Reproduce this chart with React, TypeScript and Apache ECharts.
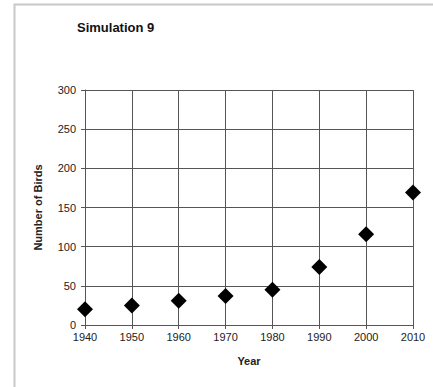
import React, { useEffect, useRef } from "react";
import * as echarts from "echarts";

const years = [1940, 1950, 1960, 1970, 1980, 1990, 2000, 2010];
const birds = [20, 25, 31, 37, 45, 74, 116, 169];
const titleText = "Simulation 9";
const xName = "Year";
const yName = "Number of Birds";

export default function App() {
  const ref = useRef<HTMLDivElement>(null);
  useEffect(() => {
    if (!ref.current) return;
    const chart = echarts.init(ref.current, null, { renderer: "svg" });
    const font = "Liberation Sans, Arial, sans-serif";
    chart.setOption({
      animation: false,
      backgroundColor: "#ffffff",
      graphic: [
        {
          type: "rect",
          shape: { x: 14.5, y: 4.5, width: 440, height: 400 },
          style: { fill: "none", stroke: "#c8c8c8", lineWidth: 2 },
          silent: true,
        },
      ],
      title: {
        text: titleText,
        left: 72,
        top: 16,
        textStyle: { fontFamily: font, fontSize: 13, fontWeight: "bold", color: "#111" },
      },
      grid: { left: 85, right: 20, top: 90, bottom: 62 },
      xAxis: {
        type: "value",
        min: 1940,
        max: 2010,
        interval: 10,
        name: xName,
        nameLocation: "middle",
        nameGap: 30,
        nameTextStyle: { fontFamily: font, fontSize: 11, fontWeight: "bold", color: "#222" },
        axisLine: { lineStyle: { color: "#555", width: 1 } },
        axisTick: { show: true, length: 4, lineStyle: { color: "#555" } },
        axisLabel: {
          fontFamily: font,
          fontSize: 11,
          color: "#222",
          margin: 6,
          formatter: (v: number) => String(v),
        },
        splitLine: { show: true, lineStyle: { color: "#555", width: 1 } },
      },
      yAxis: {
        type: "value",
        min: 0,
        max: 300,
        interval: 50,
        name: yName,
        nameLocation: "middle",
        nameRotate: 90,
        nameGap: 42,
        nameTextStyle: { fontFamily: font, fontSize: 11, fontWeight: "bold", color: "#222" },
        axisLine: { show: true, lineStyle: { color: "#555", width: 1 } },
        axisTick: { show: true, length: 4, lineStyle: { color: "#555" } },
        axisLabel: { fontFamily: font, fontSize: 11, color: "#222", margin: 9 },
        splitLine: { show: true, lineStyle: { color: "#555", width: 1 } },
      },
      series: [
        {
          type: "scatter",
          symbol: "diamond",
          symbolSize: 16,
          itemStyle: { color: "#000", opacity: 1 },
          data: years.map((y, i) => [y, birds[i]]),
        },
      ],
    });
    return () => chart.dispose();
  }, []);
  return (
    <div
      ref={ref}
      style={{ position: "fixed", left: 0, top: 0, width: 433, height: 387 }}
    />
  );
}
